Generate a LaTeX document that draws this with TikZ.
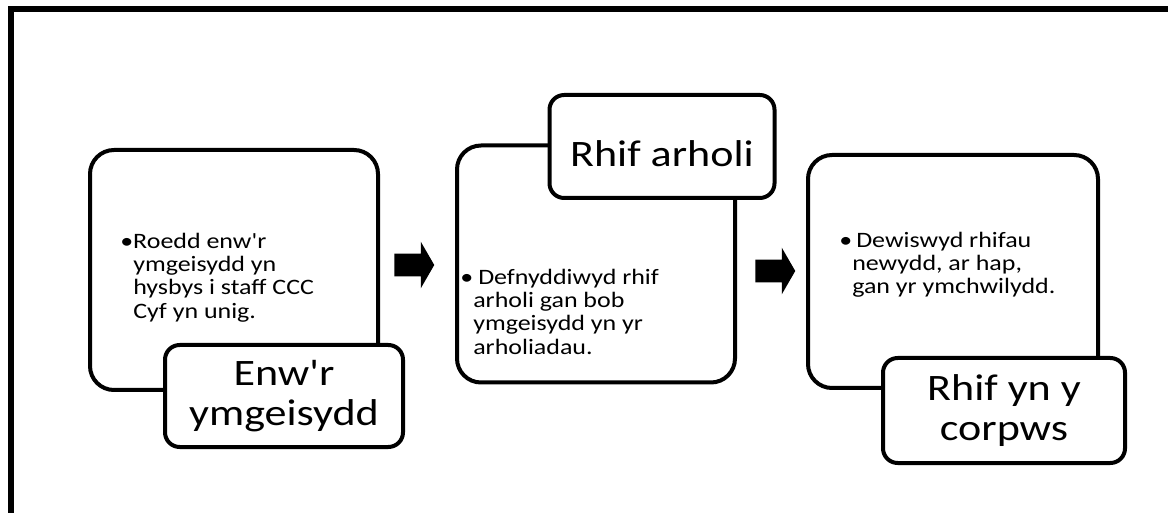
\documentclass[tikz,border=0pt]{standalone}
\usepackage{fontspec}
\setmainfont{Carlito}[FakeStretch=1.18,Ligatures=TeXOff]
\usetikzlibrary{shapes.arrows}
\begin{document}
\begin{tikzpicture}[x=0.75pt,y=-0.75pt,
  card/.style={draw=black, line width=3pt, fill=white, rounded corners=18pt, inner sep=0pt},
  tag/.style={draw=black, line width=3pt, fill=white, rounded corners=11pt, inner sep=0pt,
    align=center, font=\fontsize{28}{30}\selectfont},
  body/.style={anchor=north west, inner sep=0pt, font=\fontsize{16.5}{17.5}\selectfont},
  flow/.style={shape=single arrow, fill=black, draw=none, inner xsep=0pt, inner ysep=8.25pt,
    text height=0pt, text depth=0pt, minimum height=30pt, single arrow head extend=9pt,
    single arrow tip angle=120}
]
\useasboundingbox (0,0) rectangle (1168,513);
% open frame along the top and the left
\draw[line width=4.5pt] (11,530) -- (11,9) -- (1180,9);

% step 1
\node[card, minimum width=216pt, minimum height=180pt] (c1) at (234,270) {};
\node[body] (t1) at (133,231.7) {\begin{tabular}{@{}l@{}}\llap{\makebox[9.75pt][l]{•}}Roedd enw'r\\ymgeisydd yn\\hysbys i staff CCC\\Cyf yn unig.\end{tabular}};
\node[tag, minimum width=178.5pt, minimum height=76.5pt] (g1) at (284,396) {Enw'r\\ymgeisydd};

% step 2
\node[card, minimum width=208.5pt, minimum height=177.75pt] (c2) at (596,264) {};
\node[body] (t2) at (473,267.7) {\begin{tabular}{@{}l@{}}\llap{•}\hspace{3.75pt}Defnyddiwyd rhif\\arholi gan bob\\ymgeisydd yn yr\\arholiadau.\end{tabular}};
\node[tag, minimum width=168.75pt, minimum height=77.25pt, text height=30.75pt, text depth=0pt] (g2) at (662,146.5) {Rhif arholi};

% step 3
\node[card, minimum width=217.5pt, minimum height=174.75pt] (c3) at (953,271.5) {};
\node[body] (t3) at (852,230.7) {\begin{tabular}{@{}l@{}}\llap{•}\hspace{3pt}Dewiswyd rhifau\\newydd, ar hap,\\gan yr ymchwilydd.\end{tabular}};
\node[tag, minimum width=181.5pt, minimum height=78.75pt] (g3) at (1004,410.5) {Rhif yn y\\corpws};

% arrows between the steps
\node[flow] (a1) at (411,265) {};
\node[flow] (a2) at (772,271) {};
\end{tikzpicture}
\end{document}
